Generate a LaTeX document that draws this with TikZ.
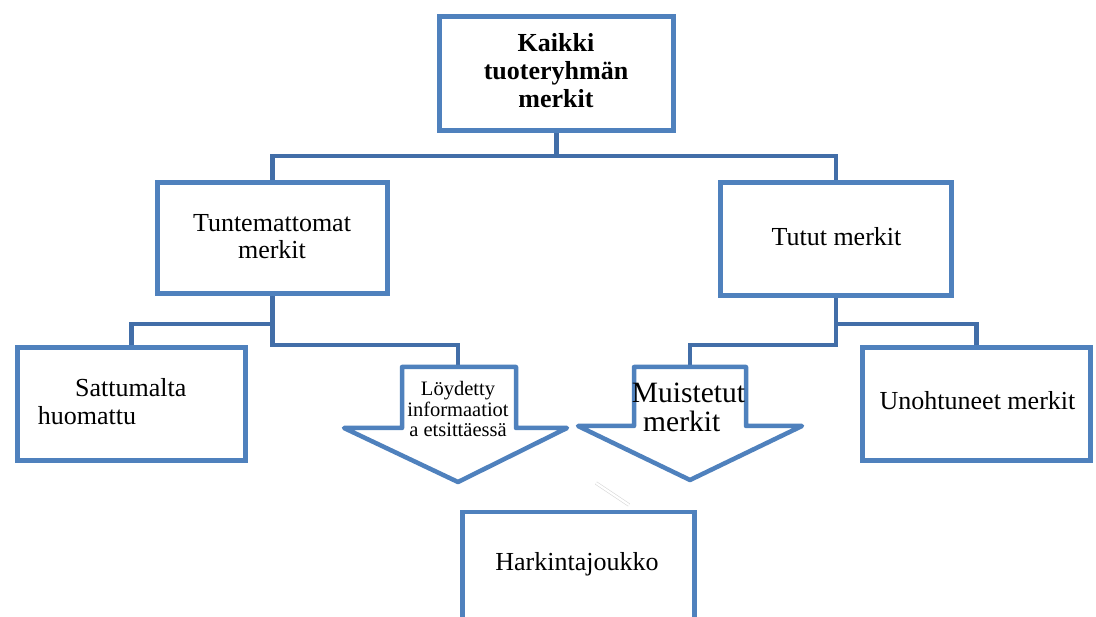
\documentclass[tikz,border=0pt]{standalone}
\usepackage{fontspec}
\setmainfont{Liberation Serif}
\definecolor{boxblue}{RGB}{79,129,189}
\definecolor{linkblue}{RGB}{66,110,168}
\begin{document}
\begin{tikzpicture}[x=1pt,y=-1pt,
  box/.style={draw=boxblue, line width=4.5pt, fill=white, inner sep=0pt, rectangle},
  link/.style={draw=linkblue, line width=4.5pt, line join=miter},
  arrowshape/.style={draw=boxblue, line width=4.5pt, fill=white, line join=round},
  txt/.style={inner sep=0pt, font=\fontsize{26}{26.6}\selectfont, align=center},
  faint/.style={draw=gray!30, line width=0.6pt, double=white, double distance=2.2pt}
]
\useasboundingbox (0,0) rectangle (1096,617);
\clip (0,0) rectangle (1096,617);
\fill[white] (0,0) rectangle (1096,617);

% box nodes
\node[box, minimum width=234pt, minimum height=114pt] (top) at (556.5,73.5) {};
\node[box, minimum width=230pt, minimum height=111pt] (tun) at (272.5,238) {};
\node[box, minimum width=231pt, minimum height=113pt] (tut) at (836,239) {};
\node[box, minimum width=228pt, minimum height=113pt] (sat) at (131.5,404) {};
\node[box, minimum width=228pt, minimum height=113pt] (uno) at (976.5,404) {};
\node[box, minimum width=232pt, minimum height=127.5pt] (har) at (578.5,576) {};

\coordinate (a1top) at (458,367);
\coordinate (a2top) at (690,367);

% connectors
\draw[link] (top.south) -- ++(0,23.5) coordinate (hub);
\draw[link] (tun.north) |- (hub) -| (tut.north);
\draw[link] (tun.south) -- ++(0,28.5) -| (sat.north);
\draw[link] (tun.south) -- ++(0,49.5) -| (a1top);
\draw[link] (tut.south) -- ++(0,26.5) -| (uno.north);
\draw[link] (tut.south) -- ++(0,47.5) -| (a2top);

% redraw boxes above connectors
\node[box, minimum width=234pt, minimum height=114pt] at (top) {};
\node[box, minimum width=230pt, minimum height=111pt] at (tun) {};
\node[box, minimum width=231pt, minimum height=113pt] at (tut) {};
\node[box, minimum width=228pt, minimum height=113pt] at (sat) {};
\node[box, minimum width=228pt, minimum height=113pt] at (uno) {};

% arrows
\draw[arrowshape] (402,367) -- (516,367) -- (516,428) -- (567,428) -- (458,482) -- (344,428) -- (402,428) -- cycle;
\draw[arrowshape] (634,367) -- (746,367) -- (746,426) -- (802,426) -- (690,480) -- (578,426) -- (634,426) -- cycle;

% faint stray connector
\coordinate (f1) at (596,483);
\coordinate (f2) at (629,505);
\draw[faint] (f1) -- (f2);
\node[box, minimum width=232pt, minimum height=127.5pt] at (har) {};

% texts (anchor=base refers to the last line)
\node[txt, font=\fontsize{26}{27.7}\selectfont\bfseries, anchor=base] (ttop) at (556,107.4) {Kaikki\\tuoteryhmän\\merkit};
\node[txt, anchor=base] (ttun) at (272,258.3) {Tuntemattomat\\merkit};
\node[txt, anchor=base] (ttut) at (836.5,246) {Tutut merkit};
\node[txt, anchor=base west] (tsat1) at (75,396.7) {Sattumalta};
\node[txt, anchor=base west] (tsat2) at (37.7,424.3) {huomattu};
\node[txt, anchor=base] (tuno) at (977.5,410) {Unohtuneet merkit};
\node[txt, anchor=base] (thar) at (577,570) {Harkintajoukko};
\node[txt, font=\fontsize{20.5}{20.5}\selectfont, anchor=base] (ta1) at (458,436.7) {Löydetty\\informaatiot\\a etsittäessä};
\node[txt, font=\fontsize{29.5}{29}\selectfont, anchor=base west] (ta2a) at (631.7,402.7) {Muistetut};
\node[txt, font=\fontsize{29.5}{29}\selectfont, anchor=base west] (ta2b) at (643,431.7) {merkit};
\end{tikzpicture}
\end{document}
